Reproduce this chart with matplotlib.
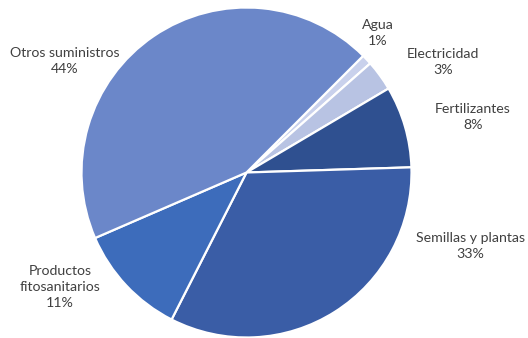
import matplotlib.pyplot as plt

labels = ["Agua", "Electricidad", "Fertilizantes", "Semillas y plantas",
          "Productos\nfitosanitarios", "Otros suministros"]
values = [1, 3, 8, 33, 11, 44]
colors = ["#c9d1ec", "#b8c3e3", "#2f5090", "#3a5da6", "#3d6cbb", "#6b87c9"]

# label centres in pixels (x, y from top)
label_pos = [(378, 33), (443, 62), (473, 117), (470, 246), (60, 287), (65, 61)]

plt.rcParams['font.family'] = ['Lato', 'DejaVu Sans']

W, H = 528, 338
fig = plt.figure(figsize=(W / 100, H / 100), dpi=100)
cx, cy, r = 246.5, 172.5, 165
ax = fig.add_axes([(cx - r) / W, (H - cy - r) / H, 2 * r / W, 2 * r / H])
ax.pie(values, colors=colors, startangle=45, counterclock=False,
       wedgeprops=dict(edgecolor="white", linewidth=1.6))
ax.set_xlim(-1, 1)
ax.set_ylim(-1, 1)
ax.set_aspect("equal")
ax.axis("off")

for lab, v, (px, py) in zip(labels, values, label_pos):
    fig.text(px / W, 1 - py / H, f"{lab}\n{v}%", ha="center", va="center",
             fontsize=10.2, color="#404040", linespacing=1.4)

fig.savefig("out.png", dpi=100)
